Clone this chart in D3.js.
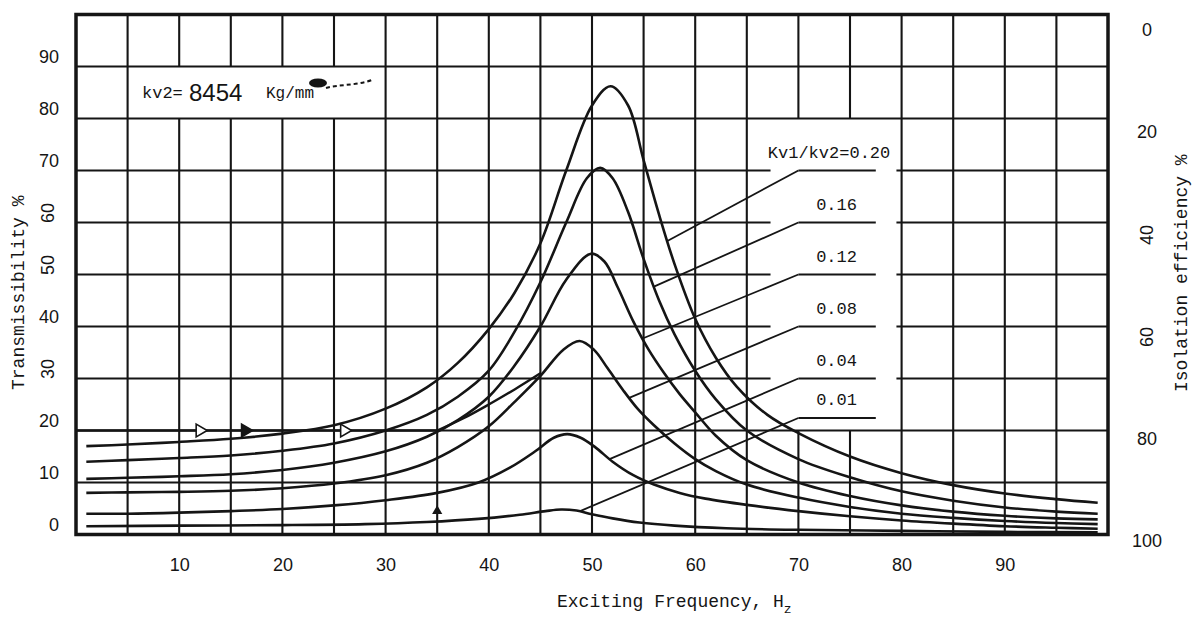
<!DOCTYPE html>
<html>
<head>
<meta charset="utf-8">
<script src="https://cdn.jsdelivr.net/npm/d3@7"></script>
<style>
  body { margin: 0; background: #fff; }
  svg { display: block; }
</style>
</head>
<body>
<div id="chart"></div>
<script>
// Values: [frequency Hz, transmissibility %]
const freqTicks = [10, 20, 30, 40, 50, 60, 70, 80, 90];
const transTicks = [0, 10, 20, 30, 40, 50, 60, 70, 80, 90];
const isoTicks = [0, 20, 40, 60, 80, 100];
const ratioLabels = ['Kv1/kv2=0.20', '0.16', '0.12', '0.08', '0.04', '0.01'];

const curve020 = [[1,17],[5,17.3],[10,17.8],[15,18.4],[20,19.4],[25,21],[30,24.2],[34,28.3],[37,33],[40,39.5],[42.5,46.5],[45,56],[47.5,70],[50,82.5],[51.8,86.2],[53.5,82.5],[55,72],[56.5,61.5],[58,52],[60,41.5],[62,34],[64,28.5],[67,23],[70,19.5],[75,15],[80,11.8],[85,9.5],[90,7.9],[95,6.8],[99,6.1]];
const curve016 = [[1,14],[5,14.3],[10,14.7],[15,15.2],[20,16.1],[25,17.5],[30,20],[34,23],[37,26.5],[40,31.5],[42.5,39],[45,48.5],[47.5,60],[49.5,68.5],[50.8,70.5],[52,68.5],[53.5,62],[55,53],[56.5,45],[58,38.5],[60,31.5],[62,26],[65,20],[70,14.5],[75,11],[80,8.3],[85,6.5],[90,5.2],[95,4.4],[99,4]];
const curve012 = [[1,10.7],[5,10.9],[10,11.2],[15,11.6],[20,12.4],[25,13.8],[30,16],[34,18.8],[37,22],[40,26.5],[42.5,32.5],[45,40],[47.5,49],[49.9,54],[51.2,52.5],[52.5,47.5],[54,41],[55.5,35.5],[57,31],[58.5,27],[60,23.5],[62,19],[65,14.3],[70,10],[75,7.4],[80,5.6],[85,4.4],[90,3.6],[95,3.1],[99,2.9]];
const curve008 = [[1,8],[5,8.1],[10,8.2],[15,8.4],[20,8.9],[25,9.8],[30,11.4],[34,13.8],[37,16.8],[40,20.8],[42.5,25.5],[45,30.5],[47.2,35.5],[48.8,37.2],[50.2,35.5],[51.5,32],[53,27.8],[54.5,24],[56,21],[58,17.5],[60,14.5],[62,12.2],[65,9.6],[70,7.1],[75,5.3],[80,4],[85,3.2],[90,2.6],[95,2.2],[99,2]];
const curve004 = [[1,4],[5,4],[10,4.2],[15,4.5],[20,4.9],[25,5.6],[30,6.6],[35,8],[39,10],[42,12.8],[44.5,16],[46.3,18.6],[47.6,19.3],[48.9,18.6],[50.3,16.8],[52,14],[54,11.4],[56,9.6],[58.5,8],[61,6.9],[65,5.7],[70,4.5],[75,3.5],[80,2.7],[85,2.1],[90,1.6],[95,1.3],[99,1.1]];
const curve001 = [[1,1.6],[10,1.7],[20,1.8],[28,2],[34,2.4],[39,3],[43,3.8],[45.5,4.5],[47,4.8],[48.5,4.6],[50,3.9],[52,3.1],[54.6,2.3],[58,1.7],[63,1.2],[70,0.9],[80,0.7],[90,0.5],[99,0.4]];
const curves = [curve020, curve016, curve012, curve008, curve004, curve001];

// where each label's leader meets its curve (Hz), and the level of its underline (%)
const leaderHz = [57.3, 56.0, 54.9, 53.6, 51.7, 48.8];
const underlineT = [70, 60, 50, 40, 30, 22.4];

// hand-drawn path in the scan: along 20 % up to 35 Hz, then climbing
const pathFlat = [[0, 20], [35, 20]];
const pathRise = [[35, 20], [37.5, 22.3], [40, 25], [42.5, 27.9], [45, 31]];
const arrowHz = [12, 16.4, 26];
const arrowFilled = [false, true, false];
const markHz = 35, markT = 4.5;

// layout
const width = 1194, height = 624;
const plot = { left: 76, right: 1108, top: 14.5, bottom: 534.5 };
const ink = '#151515';
const mono = '"Liberation Mono", "DejaVu Sans Mono", monospace';
const sans = '"Liberation Sans", Arial, sans-serif';

const x = d3.scaleLinear().domain([0, 100]).range([plot.left, plot.right]);
const y = d3.scaleLinear().domain([0, 100]).range([plot.bottom, plot.top]);
const yIso = d3.scaleLinear().domain([0, 100]).range([30, 541]);

const svg = d3.select('#chart').append('svg')
    .attr('width', width)
    .attr('height', height);

svg.append('rect').attr('width', width).attr('height', height).attr('fill', '#fff');

// grid, with the blank areas kept for the two text boxes
const labelGap = { f0: 67.3, f1: 79.5, t0: 20, t1: 80 };
const kvGap = { f0: 5, f1: 30, t0: 80, t1: 90 };

const vSegs = [];
d3.range(5, 100, 5).forEach(f => {
    if (f > labelGap.f0 && f < labelGap.f1) {
        vSegs.push([f, 0, labelGap.t0], [f, labelGap.t1, 100]);
    } else if (f > kvGap.f0 && f < kvGap.f1) {
        vSegs.push([f, 0, kvGap.t0], [f, kvGap.t1, 100]);
    } else {
        vSegs.push([f, 0, 100]);
    }
});
const hSegs = [];
d3.range(10, 100, 10).forEach(t => {
    if (t > labelGap.t0 && t < labelGap.t1) {
        hSegs.push([t, 0, labelGap.f0], [t, labelGap.f1, 100]);
    } else {
        hSegs.push([t, 0, 100]);
    }
});

const grid = svg.append('g').attr('stroke', ink).attr('stroke-width', 2.1);
grid.selectAll('line.v').data(vSegs).join('line')
    .attr('class', 'v')
    .attr('x1', d => x(d[0])).attr('x2', d => x(d[0]))
    .attr('y1', d => y(d[1])).attr('y2', d => y(d[2]));
grid.selectAll('line.h').data(hSegs).join('line')
    .attr('class', 'h')
    .attr('x1', d => x(d[1])).attr('x2', d => x(d[2]))
    .attr('y1', d => y(d[0])).attr('y2', d => y(d[0]));

svg.append('rect')
    .attr('x', x(0)).attr('y', y(100))
    .attr('width', x(100) - x(0)).attr('height', y(0) - y(100))
    .attr('fill', 'none').attr('stroke', ink).attr('stroke-width', 3.5);

// curves
const line = d3.line()
    .x(d => x(d[0]))
    .y(d => y(d[1]))
    .curve(d3.curveCatmullRom.alpha(0.5));

svg.append('g').selectAll('path').data(curves).join('path')
    .attr('d', line)
    .attr('fill', 'none')
    .attr('stroke', ink)
    .attr('stroke-width', 2.6)
    .attr('stroke-linejoin', 'round');

// the marked path along 20 %
svg.append('path').attr('d', d3.line().x(d => x(d[0])).y(d => y(d[1]))(pathFlat))
    .attr('fill', 'none').attr('stroke', ink).attr('stroke-width', 2.6);
svg.append('path').attr('d', line(pathRise))
    .attr('fill', 'none').attr('stroke', ink).attr('stroke-width', 2.4);

svg.append('g').selectAll('path').data(arrowHz).join('path')
    .attr('d', d3.symbol().type(d3.symbolTriangle).size(70))
    .attr('transform', d => `translate(${x(d)},${y(20)}) rotate(90)`)
    .attr('fill', (d, i) => arrowFilled[i] ? ink : '#fff')
    .attr('stroke', ink).attr('stroke-width', 1.6);

svg.append('path')
    .attr('d', d3.symbol().type(d3.symbolTriangle).size(45))
    .attr('transform', `translate(${x(markHz)},${y(markT)})`)
    .attr('fill', ink);

// curve labels with underline and leader
function valueAt(data, hz) {
    const i = d3.bisector(d => d[0]).left(data, hz);
    const a = data[Math.max(i - 1, 0)], b = data[Math.min(i, data.length - 1)];
    if (a === b) return a[1];
    return a[1] + (b[1] - a[1]) * (hz - a[0]) / (b[0] - a[0]);
}

const ulStart = 70, ulEnd = 77.5;
const lab = svg.append('g');
ratioLabels.forEach((txt, i) => {
    const yu = y(underlineT[i]);
    lab.append('line')
        .attr('x1', x(ulStart)).attr('x2', x(ulEnd))
        .attr('y1', yu).attr('y2', yu)
        .attr('stroke', ink).attr('stroke-width', 2);
    lab.append('line')
        .attr('x1', x(ulStart)).attr('y1', yu)
        .attr('x2', x(leaderHz[i])).attr('y2', y(valueAt(curves[i], leaderHz[i])))
        .attr('stroke', ink).attr('stroke-width', 1.8);
    lab.append('text')
        .attr('x', i === 0 ? x(78.9) : x(73.7))
        .attr('y', yu - 13)
        .attr('text-anchor', i === 0 ? 'end' : 'middle')
        .attr('font-family', mono)
        .attr('font-size', 17)
        .attr('fill', ink)
        .text(txt);
});

// kv2 note in the upper left box
const note = svg.append('g').attr('fill', ink);
note.append('text').attr('x', 142).attr('y', 98)
    .attr('font-family', mono).attr('font-size', 17).text('kv2=');
note.append('text').attr('x', 189).attr('y', 101)
    .attr('font-family', sans).attr('font-size', 24).text('8454');
note.append('text').attr('x', 266).attr('y', 98)
    .attr('font-family', mono).attr('font-size', 16).text('Kg/mm');
note.append('ellipse').attr('cx', 318).attr('cy', 83).attr('rx', 9).attr('ry', 4.5);
note.append('path').attr('d', 'M326,88 C340,84 355,86 372,80').attr('fill', 'none')
    .attr('stroke', ink).attr('stroke-width', 2).attr('stroke-dasharray', '4 3');

// axes (labels only)
const leftRotated = [30, 50, 60];
const rightRotated = [40, 60];

const gx = svg.append('g')
    .attr('transform', `translate(0,${plot.bottom})`)
    .call(d3.axisBottom(x).tickValues(freqTicks).tickSize(0).tickPadding(24));
const gy = svg.append('g')
    .attr('transform', `translate(${plot.left},-10)`)
    .call(d3.axisLeft(y).tickValues(transTicks).tickSize(0).tickPadding(17));
const gr = svg.append('g')
    .attr('transform', `translate(${plot.right},0)`)
    .call(d3.axisRight(yIso).tickValues(isoTicks).tickSize(0));

[gx, gy, gr].forEach(g => {
    g.select('.domain').remove();
    g.attr('font-family', sans).attr('font-size', 18);
    g.selectAll('text').attr('fill', ink);
});

gy.selectAll('.tick text')
    .filter(d => leftRotated.includes(d))
    .attr('text-anchor', 'middle').attr('x', 0).attr('dy', '0.35em')
    .attr('transform', 'translate(-28,0) rotate(-90)');

gr.selectAll('.tick text')
    .attr('text-anchor', 'middle').attr('x', 39);
gr.selectAll('.tick text')
    .filter(d => rightRotated.includes(d))
    .attr('x', 0).attr('dy', '0.35em')
    .attr('transform', 'translate(39,0) rotate(-90)');

// axis titles
svg.append('text')
    .attr('transform', 'translate(24,390) rotate(-90)')
    .attr('font-family', mono).attr('font-size', 18).attr('fill', ink)
    .text('Transmissibility %');

svg.append('text')
    .attr('transform', 'translate(1187,392) rotate(-90)')
    .attr('font-family', mono).attr('font-size', 18).attr('fill', ink)
    .text('Isolation efficiency %');

const xt = svg.append('text')
    .attr('x', 557).attr('y', 607)
    .attr('font-family', mono).attr('font-size', 18).attr('fill', ink);
xt.append('tspan').text('Exciting Frequency, H');
xt.append('tspan').attr('dy', 6).attr('font-size', 13).text('z');
</script>
</body>
</html>
